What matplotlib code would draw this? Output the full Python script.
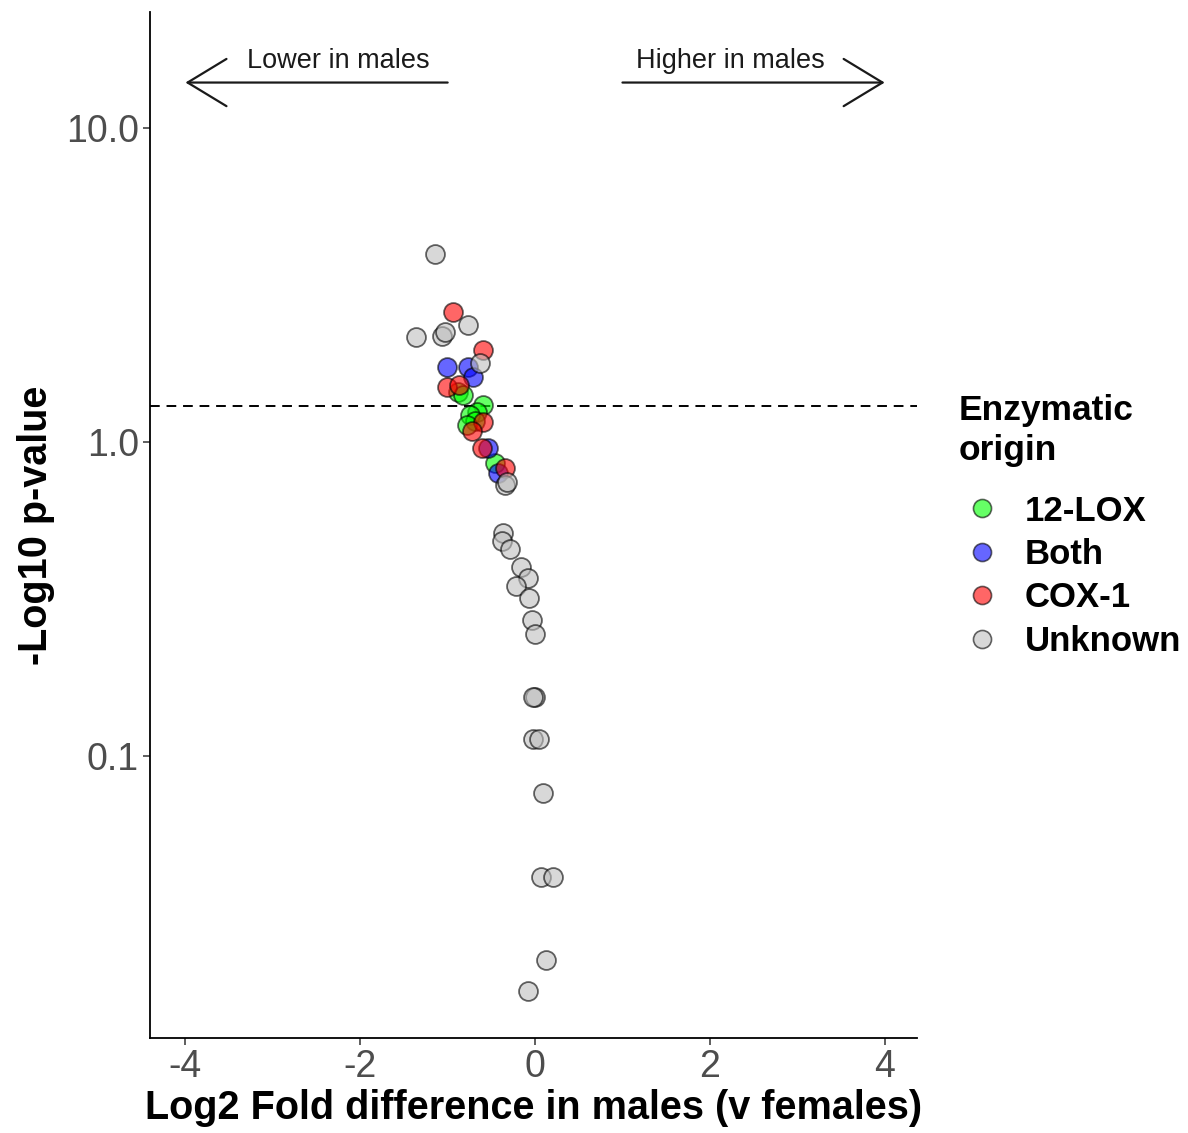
import matplotlib
matplotlib.use("Agg")
import matplotlib.pyplot as plt
from matplotlib.lines import Line2D

plt.rcParams['font.family'] = ['Liberation Sans', 'DejaVu Sans']

# ---- data ----
groups = ["12-LOX", "Both", "COX-1", "Unknown"]
group_colors = ["#00FF00", "#0000FF", "#FF0000", "#BEBEBE"]

lox_x = [-0.88, -0.82, -0.59, -0.66, -0.74, -0.69, -0.78, -0.46]
lox_y = [1.44, 1.41, 1.31, 1.25, 1.22, 1.17, 1.13, 0.857]

both_x = [-1.01, -0.77, -0.71, -0.54, -0.42]
both_y = [1.73, 1.73, 1.61, 0.957, 0.796]

cox_x = [-0.94, -0.59, -1.01, -0.87, -0.59, -0.72, -0.61, -0.34]
cox_y = [2.60, 1.97, 1.50, 1.52, 1.16, 1.08, 0.957, 0.826]

unk_x = [-1.14, -1.36, -1.06, -1.03, -0.77, -0.63, -0.34, -0.32,
         -0.37, -0.38, -0.29, -0.16, -0.08, -0.22, -0.07, -0.03, 0.00,
         0.00, -0.02, -0.02, 0.05, 0.09, 0.07, 0.21, 0.13, -0.08]
unk_y = [3.98, 2.16, 2.18, 2.24, 2.36, 1.79, 0.729, 0.745,
         0.513, 0.483, 0.456, 0.399, 0.368, 0.347, 0.318, 0.270, 0.244,
         0.154, 0.154, 0.113, 0.113, 0.0760, 0.0409, 0.0409, 0.0223, 0.0177]

series_x = [lox_x, both_x, cox_x, unk_x]
series_y = [lox_y, both_y, cox_y, unk_y]

y_ticks = [0.1, 1.0, 10.0]
y_tick_labels = ["0.1", "1.0", "10.0"]
x_ticks = [-4, -2, 0, 2, 4]
x_tick_labels = ["-4", "-2", "0", "2", "4"]
threshold = 1.30103

# ---- figure ----
fig = plt.figure(figsize=(11.88, 11.33), dpi=100)
ax = fig.add_axes([0.1263, 0.0838, 0.6456, 0.9056])

for xs, ys, c in zip(series_x, series_y, group_colors):
    ax.scatter(xs, ys, s=185, facecolor=c, edgecolor="black", alpha=0.6,
               linewidth=1.3, zorder=3)

ax.set_yscale("log")
ax.set_xlim(-4.405, 4.37)
ax.set_ylim(0.01256, 23.5)

ax.axhline(threshold, color="black", linestyle=(0, (5, 3.5)), linewidth=1.4, zorder=2)

ax.set_yticks(y_ticks)
ax.set_yticklabels(y_tick_labels)
ax.yaxis.set_minor_locator(matplotlib.ticker.NullLocator())
ax.set_xticks(x_ticks)
ax.set_xticklabels(x_tick_labels)

for s in ["top", "right"]:
    ax.spines[s].set_visible(False)
for s in ["left", "bottom"]:
    ax.spines[s].set_linewidth(1.3)
    ax.spines[s].set_color("black")
ax.tick_params(axis="both", which="major", labelsize=27, labelcolor="#4D4D4D",
               color="#333333", length=5, width=1.1, pad=3)

ax.set_xlabel("Log2 Fold difference in males (v females)", fontsize=28.5,
              fontweight="bold", labelpad=3)
ax.set_ylabel("-Log10 p-value", fontsize=28.5, fontweight="bold", labelpad=8)

# arrows
arrow_kw = dict(arrowstyle="->,head_length=28,head_width=17", color="#1a1a1a",
                lw=1.6, mutation_scale=1, shrinkA=0, shrinkB=0)
ax.annotate("", xy=(-4, 14.0), xytext=(-1, 14.0), arrowprops=arrow_kw)
ax.annotate("", xy=(4, 14.0), xytext=(1, 14.0), arrowprops=arrow_kw)
ax.text(-2.25, 16.4, "Lower in males", ha="center", va="center", fontsize=19.5,
        color="#1a1a1a")
ax.text(2.24, 16.4, "Higher in males", ha="center", va="center", fontsize=19.5,
        color="#1a1a1a")

# legend
handles = [Line2D([0], [0], marker="o", linestyle="", markersize=13,
                  markerfacecolor=c, markeredgecolor="black", alpha=0.6,
                  markeredgewidth=1.2) for c in group_colors]
leg = fig.legend(handles, groups, loc="upper left", bbox_to_anchor=(0.807, 0.652),
                 frameon=False, title="Enzymatic\norigin",
                 prop={"size": 25, "weight": "bold"},
                 title_fontproperties={"size": 25.5, "weight": "bold"},
                 handlelength=1.35, handletextpad=0.55, labelspacing=0.3,
                 borderaxespad=0, borderpad=0)
leg._legend_box.align = "left"
leg.get_title().set_linespacing(1.25)
leg._legend_box.sep = 20

fig.savefig("out.png", dpi=100)
